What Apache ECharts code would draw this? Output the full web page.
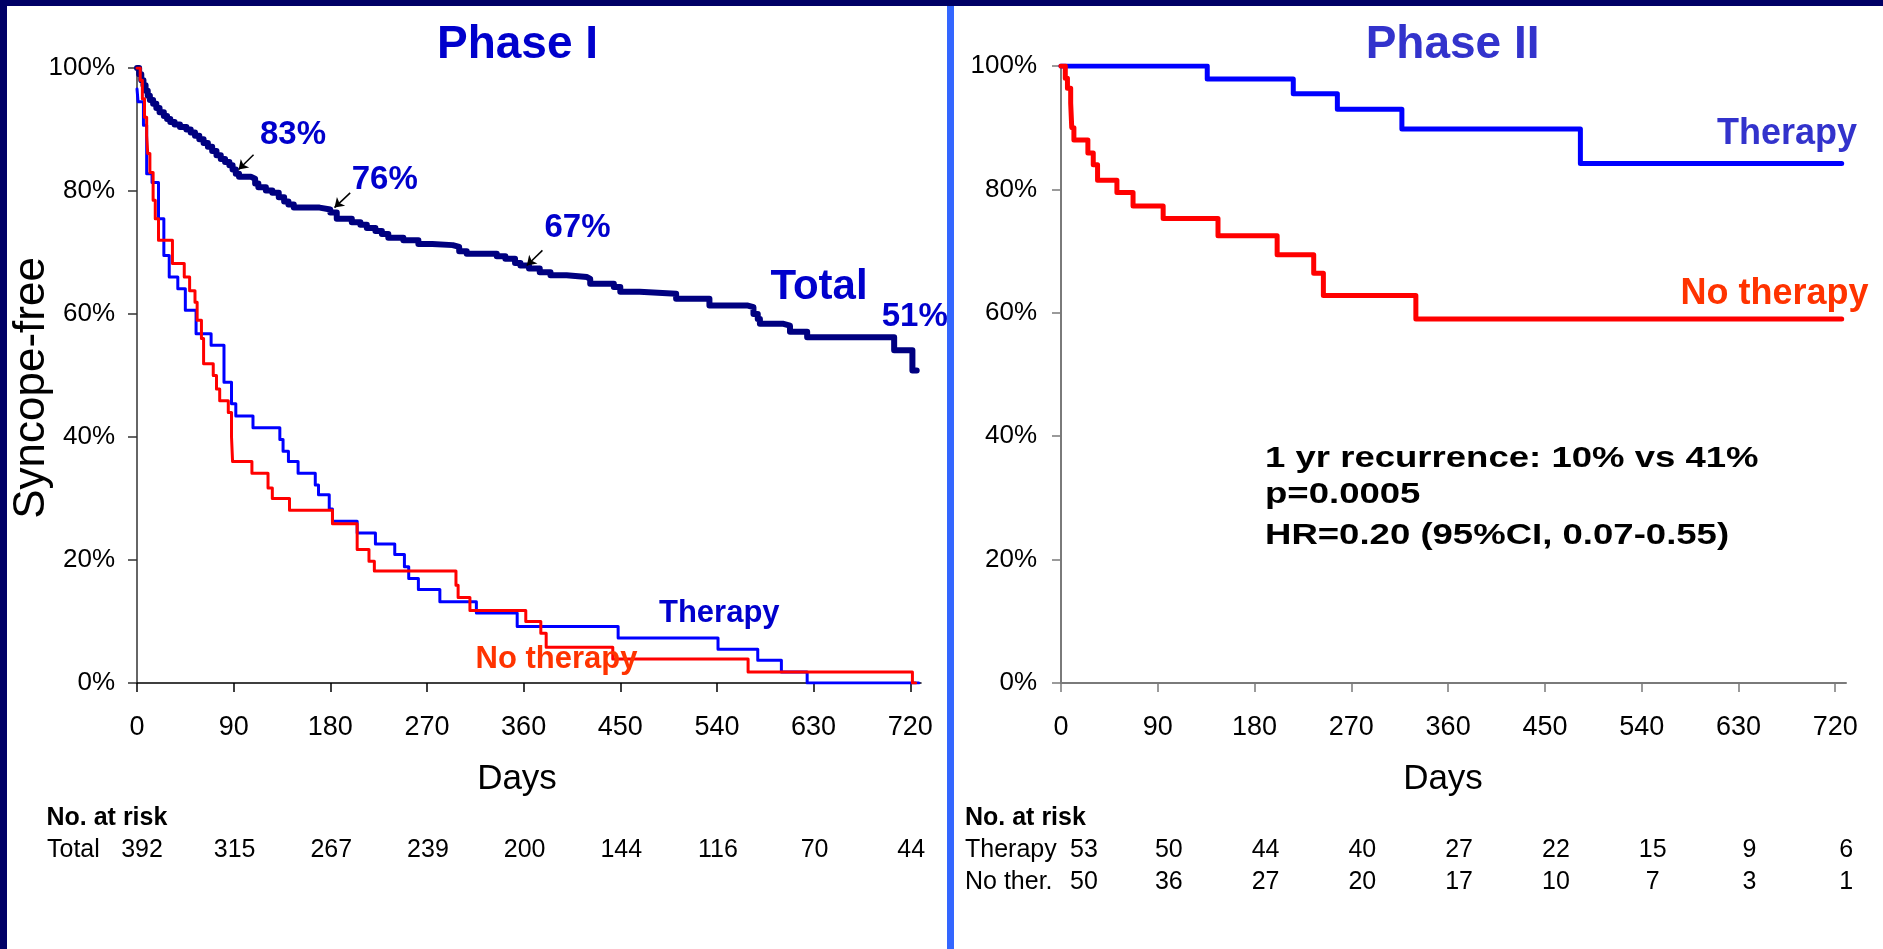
<!DOCTYPE html>
<html>
<head>
<meta charset="utf-8">
<script src="https://cdn.jsdelivr.net/npm/echarts@6/dist/echarts.min.js"></script>
<style>
html,body{margin:0;padding:0;width:1883px;height:949px;overflow:hidden;background:#000066;}
#lp{position:absolute;left:7px;top:6px;width:940px;height:943px;background:#ffffff;}
#dv{position:absolute;left:947px;top:6px;width:7px;height:943px;background:#3366ff;}
#rp{position:absolute;left:954px;top:6px;width:929px;height:943px;background:#ffffff;}
#chart{position:absolute;left:0;top:0;width:1883px;height:949px;}
</style>
</head>
<body>
<div id="lp"></div><div id="dv"></div><div id="rp"></div>
<div id="chart"></div>
<script>
// ---------------- data ----------------
const dayTicks = [0, 90, 180, 270, 360, 450, 540, 630, 720];

// Phase I — Kaplan-Meier step points [day, survival after event]
const p1Total = [[0,1.0],[2,0.99],[4,0.98],[6,0.972],[8,0.963],[10,0.955],[12,0.948],[15,0.942],[18,0.935],[21,0.928],[25,0.922],[28,0.917],[31,0.912],[35,0.908],[40,0.904],[46,0.9],[50,0.895],[54,0.89],[58,0.884],[62,0.878],[66,0.872],[70,0.865],[74,0.858],[78,0.852],[82,0.847],[86,0.842],[89,0.835],[92,0.828],[95,0.823],[106,0.82],[110,0.812],[113,0.806],[120,0.801],[126,0.797],[132,0.79],[137,0.783],[141,0.778],[146,0.773],[170,0.77],[180,0.765],[186,0.755],[200,0.749],[208,0.745],[214,0.74],[222,0.735],[228,0.73],[234,0.724],[248,0.72],[262,0.714],[275,0.712],[294,0.709],[300,0.702],[307,0.698],[335,0.694],[343,0.69],[352,0.683],[357,0.679],[365,0.674],[375,0.668],[385,0.663],[400,0.66],[419,0.657],[422,0.649],[444,0.644],[450,0.636],[468,0.633],[502,0.625],[533,0.614],[568,0.611],[574,0.6],[578,0.592],[580,0.584],[602,0.581],[608,0.571],[624,0.562],[705,0.541],[722,0.508],[726,0.508]];
const p1Therapy = [[0,0.966],[1,0.945],[6,0.907],[9,0.828],[14,0.814],[20,0.755],[25,0.695],[30,0.66],[38,0.641],[45,0.606],[55,0.568],[69,0.549],[81,0.489],[88,0.454],[92,0.434],[108,0.415],[133,0.396],[136,0.377],[141,0.36],[150,0.341],[166,0.322],[169,0.306],[179,0.283],[182,0.263],[205,0.244],[222,0.226],[240,0.209],[249,0.189],[253,0.17],[262,0.152],[282,0.132],[316,0.114],[354,0.092],[448,0.073],[541,0.055],[578,0.037],[600,0.018],[624,0],[728,0]];
const p1NoTherapy = [[0,1.0],[3,0.98],[5,0.95],[7,0.92],[9,0.89],[10,0.861],[12,0.83],[15,0.785],[17,0.755],[20,0.72],[33,0.682],[44,0.66],[49,0.638],[54,0.619],[56,0.59],[60,0.56],[62,0.519],[71,0.5],[74,0.478],[77,0.459],[85,0.44],[88,0.40],[89,0.36],[107,0.341],[122,0.317],[126,0.30],[142,0.281],[182,0.259],[205,0.217],[216,0.198],[221,0.182],[297,0.159],[299,0.139],[310,0.118],[362,0.10],[376,0.081],[381,0.058],[443,0.039],[569,0.018],[722,0],[725,0]];

// Phase II
const p2Therapy = [[0,1.0],[136,0.979],[216,0.955],[257,0.93],[317,0.898],[483,0.842],[726,0.842]];
const p2NoTherapy = [[0,1.0],[4,0.98],[6,0.964],[9,0.94],[10,0.90],[12,0.88],[25,0.859],[30,0.84],[34,0.815],[52,0.795],[67,0.773],[95,0.753],[146,0.725],[201,0.694],[235,0.664],[244,0.628],[330,0.59],[726,0.59]];

// annotation arrows on the Total curve: [from, to] in [day, survival]
const arrowPts = [
  [[108.5, 0.859], [94.6, 0.835]],
  [[198.5, 0.797], [183.9, 0.773]],
  [[377.5, 0.7035], [363.0, 0.679]]
];

// numbers at risk
const riskTotal = [392, 315, 267, 239, 200, 144, 116, 70, 44];
const riskTherapy = [53, 50, 44, 40, 27, 22, 15, 9, 6];
const riskNoTherapy = [50, 36, 27, 20, 17, 10, 7, 3, 1];

// ---------------- chart ----------------
const FONT = '"Liberation Sans", Arial, Helvetica, sans-serif';
const chart = echarts.init(document.getElementById('chart'), null, {renderer: 'canvas'});

function pct(v) { return Math.round(v * 100) + '%'; }

function mainX(gi, color, lw) {
  return {
    type: 'value', gridIndex: gi, min: 0, max: 730, interval: 90,
    axisLine: {show: true, lineStyle: {color: color, width: lw}},
    axisTick: {show: true, length: 9, customValues: dayTicks, lineStyle: {color: color, width: 1.5}},
    axisLabel: {customValues: dayTicks, fontSize: 27, color: '#000', fontFamily: FONT, margin: 31},
    splitLine: {show: false}
  };
}
function mainY(gi, color, lw, margin) {
  return {
    type: 'value', gridIndex: gi, min: 0, max: 1, interval: 0.2,
    axisLine: {show: true, lineStyle: {color: color, width: lw}},
    axisTick: {show: true, length: 9, lineStyle: {color: color, width: 1.5}},
    axisLabel: {formatter: pct, fontSize: 26, color: '#000', fontFamily: FONT, margin: margin},
    splitLine: {show: false}
  };
}
function hiddenX(gi) {
  return {type: 'value', gridIndex: gi, min: 0, max: 730, show: false};
}
function riskY(gi, names, margin) {
  return {
    type: 'category', gridIndex: gi, data: names, inverse: true,
    axisLine: {show: false}, axisTick: {show: false}, splitLine: {show: false},
    axisLabel: {interval: 0, hideOverlap: false, align: 'left', margin: margin, fontSize: 25, color: '#000', fontFamily: FONT}
  };
}
function km(name, data, xi, color, width, extra) {
  return Object.assign({
    type: 'line', name: name, xAxisIndex: xi, yAxisIndex: xi, data: data,
    step: 'end', showSymbol: false, symbol: 'none', silent: true, animation: false,
    lineStyle: {color: color, width: width, cap: 'round', join: 'round'}
  }, extra || {});
}
function riskSeries(xi, row, values, baseOff, firstOff) {
  return {
    type: 'scatter', xAxisIndex: xi, yAxisIndex: xi, silent: true, animation: false,
    symbolSize: 0, itemStyle: {color: '#000', opacity: 0}, clip: false,
    data: values.map(function (v, i) {
      return {
        value: [dayTicks[i], row, v],
        label: {offset: [i === 0 ? firstOff : baseOff, 0]}
      };
    }),
    label: {
      show: true, position: [0, 0], align: 'center', verticalAlign: 'middle',
      fontSize: 25, color: '#000', opacity: 1, textBorderWidth: 0, fontFamily: FONT,
      formatter: function (p) { return String(p.value[2]); }
    }
  };
}
function txt(text, x, y, size, color, o) {
  o = o || {};
  const al = o.align || 'center';
  return {
    type: 'text', x: x, y: y, z: 100, silent: true,
    rotation: o.rotation || 0, scaleX: o.scaleX || 1, scaleY: 1,
    style: {
      text: text, fill: color, fontSize: size, fontWeight: o.bold ? 'bold' : 'normal',
      fontFamily: FONT, align: al, textAlign: al, verticalAlign: 'middle', textVerticalAlign: 'middle'
    }
  };
}

const option = {
  animation: false,
  backgroundColor: 'transparent',
  grid: [
    {left: 137, top: 68, width: 784, height: 615, outerBoundsMode: 'none'},
    {left: 1061, top: 66, width: 785, height: 617, outerBoundsMode: 'none'},
    {left: 137, top: 834, width: 784, height: 32, outerBoundsMode: 'none'},
    {left: 1061, top: 834, width: 785, height: 64, outerBoundsMode: 'none'}
  ],
  xAxis: [mainX(0, '#000', 1.5), mainX(1, '#7a7a7a', 2), hiddenX(2), hiddenX(3)],
  yAxis: [mainY(0, '#333', 1.5, 22), mainY(1, '#7a7a7a', 2, 24),
          riskY(2, ['Total'], 90), riskY(3, ['Therapy', 'No ther.'], 96)],
  series: [
    km('Total', p1Total, 0, '#000080', 6, {
      markLine: {
        silent: true, animation: false, symbol: ['none', 'arrow'], symbolSize: 9,
        lineStyle: {color: '#000', width: 1.5, type: 'solid'},
        label: {show: false},
        data: arrowPts.map(function (a) { return [{coord: a[0]}, {coord: a[1]}]; })
      }
    }),
    km('Therapy', p1Therapy, 0, '#0000ff', 3),
    km('No therapy', p1NoTherapy, 0, '#ff0000', 3),
    km('Therapy II', p2Therapy, 1, '#0000ff', 5),
    km('No therapy II', p2NoTherapy, 1, '#ff0000', 5),
    riskSeries(2, 'Total', riskTotal, 1, 5),
    riskSeries(3, 'Therapy', riskTherapy, 11, 23),
    riskSeries(3, 'No ther.', riskNoTherapy, 11, 23)
  ],
  graphic: [
    txt('Phase I', 517.5, 45.5, 46, '#0000cc', {bold: true}),
    txt('Phase II', 1452.6, 45.5, 46, '#3333cc', {bold: true}),
    txt('Syncope-free', 32, 388, 44, '#000', {rotation: Math.PI / 2}),
    txt('83%', 293, 135.3, 33, '#0000cc', {bold: true}),
    txt('76%', 384.7, 180, 33, '#0000cc', {bold: true}),
    txt('67%', 577.5, 228, 33, '#0000cc', {bold: true}),
    txt('Total', 819, 287, 42, '#0000cc', {bold: true}),
    txt('51%', 881.7, 316.7, 33, '#0000cc', {bold: true, align: 'left'}),
    txt('Therapy', 719.3, 613.5, 31, '#0000cc', {bold: true}),
    txt('No therapy', 556.5, 659, 31, '#ff3300', {bold: true}),
    txt('Therapy', 1787, 134, 36, '#3333cc', {bold: true}),
    txt('No therapy', 1774.6, 294, 36, '#ff3300', {bold: true}),
    txt('1 yr recurrence: 10% vs 41%', 1265, 459.3, 29, '#000', {bold: true, align: 'left', scaleX: 1.26}),
    txt('p=0.0005', 1265, 495, 29, '#000', {bold: true, align: 'left', scaleX: 1.26}),
    txt('HR=0.20 (95%CI, 0.07-0.55)', 1265, 535.5, 29, '#000', {bold: true, align: 'left', scaleX: 1.26}),
    txt('Days', 517, 779, 35, '#000'),
    txt('Days', 1443, 779, 35, '#000'),
    txt('No. at risk', 46.5, 818, 25, '#000', {bold: true, align: 'left'}),
    txt('No. at risk', 965, 818, 25, '#000', {bold: true, align: 'left'})
  ]
};
chart.setOption(option);
</script>
</body>
</html>
